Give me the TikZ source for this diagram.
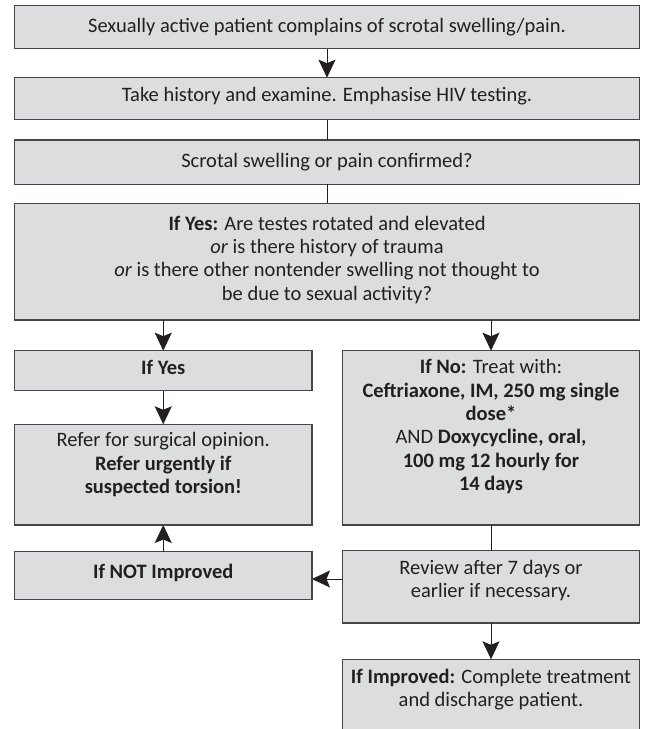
\documentclass[tikz,border=0pt]{standalone}
\usepackage{fontspec}
\setmainfont{Carlito}
\usetikzlibrary{arrows.meta}

\definecolor{boxfill}{RGB}{220,221,223}
\definecolor{boxline}{RGB}{70,70,72}
\definecolor{ink}{RGB}{35,31,32}

\newcommand{\chartfont}{\fontsize{20.5}{23.3}\selectfont}

\tikzset{
  box/.style={draw=boxline, fill=boxfill, line width=1.4pt,
              inner sep=0pt, outer sep=0pt},
  txt/.style={align=center, text=ink, inner sep=0pt, font=\chartfont,
              execute at begin node=\strut, execute at end node=\strut},
  link/.style={draw=ink, line width=1pt},
  arr/.style={link, -{Stealth[length=18pt,width=17pt,inset=3.5pt]}},
}

\begin{document}
\begin{tikzpicture}[x=1pt, y=-1pt]
  \useasboundingbox (0,0) rectangle (649,729);
  \clip (0,0) rectangle (649,729);

  % full-width boxes
  \node[box, minimum width=625pt, minimum height=43pt]    (b1) at (327,27)     {};
  \node[box, minimum width=625pt, minimum height=41.8pt]  (b2) at (327,98.6)   {};
  \node[box, minimum width=625pt, minimum height=44.3pt]  (b3) at (327,162.15) {};
  \node[box, minimum width=625pt, minimum height=116.7pt] (b4) at (327,261.65) {};

  % left column
  \node[box, minimum width=297.5pt, minimum height=40pt]    (yes)    at (163.25,370.7)  {};
  \node[box, minimum width=297.5pt, minimum height=100.7pt] (refer)  at (163.25,474.65) {};
  \node[box, minimum width=297.5pt, minimum height=47.6pt]  (notimp) at (163.25,575.5)  {};

  % right column
  \node[box, minimum width=297pt, minimum height=174.3pt] (no)     at (491,437.85) {};
  \node[box, minimum width=297pt, minimum height=72.3pt]  (review) at (491,586.85) {};
  \node[box, minimum width=297pt, minimum height=100.7pt] (imp)    at (491,709.65) {};

  % texts
  \node[txt] (t1) at (327,27.5) {Sexually active patient complains of scrotal swelling/pain.};
  \node[txt] (t2) at (327,97) {Take history and examine. Emphasise HIV testing.};
  \node[txt] (t3) at (327,163) {Scrotal swelling or pain confirmed?};
  \node[txt] (t4) at (327,261.7) {\textbf{If Yes:} Are testes rotated and elevated\\
    \textit{or} is there history of trauma\\
    \textit{or} is there other nontender swelling not thought to\\
    be due to sexual activity?};
  \node[txt] (tyes) at (163.25,370) {\textbf{If Yes}};
  \node[txt] (trefer) at (163.25,466.6) {Refer for surgical opinion.\\
    \textbf{Refer urgently if}\\ \textbf{suspected torsion!}};
  \node[txt] (tnotimp) at (163.25,574) {\textbf{If NOT Improved}};
  \node[txt] (tno) at (491,428.5) {\textbf{If No:} Treat with:\\
    \textbf{Ceftriaxone, IM, 250 mg single}\\
    \textbf{dose*}\\
    AND \textbf{Doxycycline, oral,}\\
    \textbf{100 mg 12 hourly for}\\
    \textbf{14 days}};
  \node[txt] (treview) at (491,582.5) {Review after 7 days or\\ earlier if necessary.};
  \node[txt] (timp) at (491,691.3) {\textbf{If Improved:} Complete treatment\\ and discharge patient.};

  % connectors
  \coordinate (back) at (0,579);
  \draw[arr]  (b1.south) -- (b2.north);
  \draw[link] (b2.south) -- (b3.north);
  \draw[link] (b3.south) -- (b4.north);
  \draw[arr]  (b4.south -| yes.north) -- (yes.north);
  \draw[arr]  (b4.south -| no.north) -- (no.north);
  \draw[arr]  (yes.south) -- (refer.north);
  \draw[link] (no.south) -- (review.north);
  \draw[arr]  (review.west |- back) -- (notimp.east |- back);
  \draw[arr]  (notimp.north) -- (refer.south);
  \draw[arr]  (review.south) -- (imp.north);
\end{tikzpicture}
\end{document}
